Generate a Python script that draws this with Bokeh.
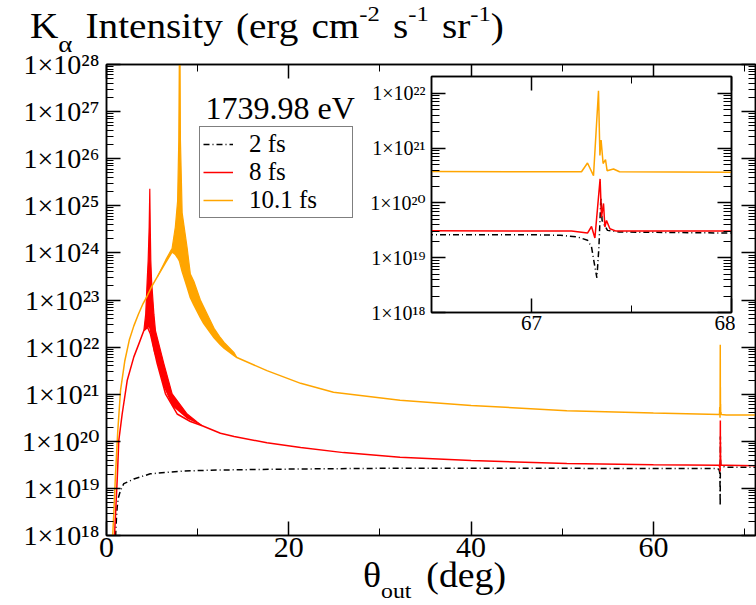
from bokeh.plotting import figure
from bokeh.models import (Range1d, LogAxis, LinearAxis, FixedTicker, CustomJSTickFormatter,
                          Label, Legend, LegendItem, Div)
from bokeh.embed import file_html
from bokeh.resources import INLINE

SERIF = "Liberation Serif"
SERIF_STACK = "'Liberation Serif', 'DejaVu Serif', serif"

# ---------------- data ----------------
# 2 fs (black, dash-dot)
theta_2fs = [0.97, 1.0, 1.1, 1.17, 1.3, 1.54, 1.9, 3.0, 4.8, 8.5,
             12.1, 20.0, 32.0, 45.0, 60.0, 67.0, 67.145, 67.23, 67.28, 67.30,
             67.317, 67.327, 67.337, 67.347, 67.353, 67.36, 67.38, 67.44, 68.0, 71.3]
I_2fs = [5e17, 1.0e18, 2.5e18, 4.0e18, 6.3e18, 9.1e18, 1.26e19, 1.58e19, 2.04e19, 2.34e19,
         2.45e19, 2.57e19, 2.69e19, 2.69e19, 2.63e19, 2.63e19, 2.57e19, 2.40e19, 2.09e19, 1.58e19,
         6.8e18, 4.3e18, 1.55e19, 1.26e20, 4.8e19, 4.2e19, 3.16e19, 2.95e19, 2.82e19, 2.82e19]

# 8 fs (red)
theta_8fs = [0.86, 0.88, 1.17, 1.35, 1.72, 2.27, 3.0, 3.55, 4.1, 4.5,
             4.82, 5.56, 6.47, 7.75, 9.2, 10.5, 12.5, 14.0, 17.6, 21.3,
             26.0, 32.2, 40.0, 50.5, 60.0, 67.2, 67.28, 67.30, 67.317, 67.343,
             67.35, 67.36, 67.367, 67.375, 67.392, 67.42, 68.0, 71.3]
I_8fs = [5e17, 1.0e18, 1.48e19, 1.05e20, 3.8e20, 1.95e21, 6.2e21, 1.17e22, 2.24e22, 2.63e22,
         1.9e22, 4.47e21, 1.02e21, 3.8e20, 2.63e20, 2.14e20, 1.48e20, 1.26e20, 9.3e19, 7.4e19,
         5.75e19, 4.57e19, 3.9e19, 3.39e19, 3.16e19, 3.09e19, 2.82e19, 3.72e19, 2.29e19, 2.75e20,
         5.5e19, 9.8e19, 3.63e19, 4.79e19, 3.39e19, 3.09e19, 3.09e19, 3.02e19]
# 8 fs oscillation envelope
band8_theta = [4.1, 4.3, 4.46, 4.57, 4.68, 4.75, 4.80, 4.86, 4.95, 5.2,
               5.37, 6.29, 7.2, 8.85, 9.94, 10.5]
band8_hi = [2.24e22, 5.0e22, 2.5e23, 6.9e23, 3.55e24, 2.29e25, 3.55e24, 6.9e23, 2.5e23, 5.0e22,
            2.24e22, 4.47e21, 1.02e21, 3.8e20, 2.57e20, 2.14e20]
band8_lo = [2.24e22, 2.4e22, 2.57e22, 2.63e22, 2.51e22, 2.24e22, 2.0e22, 1.78e22, 1.41e22, 7.9e21,
            6.3e21, 1.41e21, 5.6e20, 3.0e20, 2.4e20, 2.14e20]

# 10.1 fs (orange)
theta_10fs = [0.66, 0.68, 0.80, 0.99, 1.24, 1.54, 2.0, 2.5, 3.0, 3.5,
              4.0, 4.5, 5.0, 5.6, 6.5, 7.2, 7.55, 7.8, 8.0, 8.3,
              8.85, 9.2, 9.58, 10.3, 10.67, 11.8, 12.5, 12.9, 14.0, 14.3,
              17.6, 21.3, 24.9, 32.2, 40.0, 50.5, 60.0, 67.25, 67.28, 67.31,
              67.335, 67.342, 67.348, 67.358, 67.37, 67.378, 67.41, 67.44, 68.0, 71.3]
I_10fs = [5e17, 1.0e18, 2.9e18, 2.04e19, 1.7e20, 1.2e21, 5.0e21, 1.41e22, 2.82e22, 5.0e22,
          8.3e22, 1.26e23, 2.0e23, 3.16e23, 6.3e23, 1.05e24, 9.3e23, 7.9e23, 6.8e23, 4.0e23,
          1.86e23, 1.12e23, 7.9e22, 4.2e22, 3.16e22, 1.58e22, 1.12e22, 9.5e21, 6.6e21, 6.0e21,
          3.16e21, 1.7e21, 1.1e21, 7.4e20, 5.75e20, 4.47e20, 3.98e20, 3.72e20, 5.37e20, 3.16e20,
          1.12e22, 7.4e20, 1.41e21, 5.25e20, 6.17e20, 3.89e20, 4.17e20, 3.72e20, 3.63e20, 3.63e20]
# 10.1 fs oscillation envelope
band10_theta = [5.6, 6.5, 7.2, 7.55, 7.8, 7.93, 8.0, 8.06, 8.11, 8.3,
                8.85, 9.2, 9.58, 10.3, 10.67, 11.8, 12.5, 12.9, 14.0, 14.3]
band10_hi = [3.16e23, 7.1e23, 1.26e24, 3.55e24, 1.26e25, 2.5e26, 3.2e28, 3.2e28, 2.5e26, 7.1e24,
             1.26e24, 3.55e23, 2.5e23, 1.0e23, 7.1e22, 2.5e22, 1.58e22, 1.26e22, 7.6e21, 6.0e21]
band10_lo = [3.16e23, 6.3e23, 1.05e24, 9.3e23, 7.9e23, 7.2e23, 6.8e23, 6.3e23, 6.0e23, 4.0e23,
             1.86e23, 1.12e23, 7.9e22, 4.2e22, 3.16e22, 1.58e22, 1.12e22, 9.5e21, 6.6e21, 6.0e21]

series_labels = ["2 fs", "8 fs", "10.1 fs"]
series_colors = ["black", "#ff0000", "#ffa500"]

main_xticks = [0, 20, 40, 60]
main_xminor = [10, 30, 50, 70]
main_decades = list(range(18, 29))
inset_xticks = [67, 68]
inset_xminor = [66.5, 67.5]
inset_decades = list(range(18, 23))

# ---------------- helpers ----------------
SUP_JS = """
const s = {"0":"\u2070","1":"\u00b9","2":"\u00b2","3":"\u00b3","4":"\u2074","5":"\u2075",
           "6":"\u2076","7":"\u2077","8":"\u2078","9":"\u2079","-":"\u207b"};
const e = Math.round(Math.log10(tick));
let out = "";
for (const c of String(e)) out += s[c];
return "1\u00d710" + out;
"""


def log_ticker(decades):
    ticks = [10.0 ** e for e in decades]
    minor = [m * 10.0 ** e for e in decades[:-1] for m in range(2, 10)]
    return FixedTicker(ticks=ticks, minor_ticks=minor)


def style_axis(ax, major_in, minor_in, size, standoff, labels=True):
    ax.major_tick_in = major_in
    ax.major_tick_out = 0
    ax.minor_tick_in = minor_in
    ax.minor_tick_out = 0
    ax.axis_line_color = "black"
    ax.axis_line_width = 1.5
    ax.major_tick_line_color = "black"
    ax.major_tick_line_width = 1.5
    ax.minor_tick_line_color = "black"
    ax.minor_tick_line_width = 1
    ax.major_label_text_font = SERIF_STACK
    ax.major_label_text_font_size = f"{size}px"
    ax.major_label_text_color = "black"
    ax.major_label_standoff = standoff
    if not labels:
        ax.formatter = CustomJSTickFormatter(code="return '';")
        ax.major_label_standoff = 0


def draw_series(fig):
    renderers = []
    r = fig.line(theta_2fs, I_2fs, line_color=series_colors[0], line_width=1.5, line_dash="6 3 1 3")
    renderers.append(r)
    fig.varea(x=band8_theta, y1=band8_lo, y2=band8_hi, fill_color=series_colors[1])
    fig.line(band8_theta, band8_hi, line_color=series_colors[1], line_width=1.2)
    r = fig.line(theta_8fs, I_8fs, line_color=series_colors[1], line_width=1.5)
    renderers.append(r)
    fig.varea(x=band10_theta, y1=band10_lo, y2=band10_hi, fill_color=series_colors[2])
    fig.line(band10_theta, band10_hi, line_color=series_colors[2], line_width=1.2)
    r = fig.line(theta_10fs, I_10fs, line_color=series_colors[2], line_width=1.5)
    renderers.append(r)
    return renderers


W, H = 756, 605

# ---------------- main figure ----------------
p = figure(width=W, height=H, output_backend="svg", toolbar_location=None,
           x_range=Range1d(0, 71.2), y_range=Range1d(1e18, 1e28), y_axis_type="log",
           min_border_left=106, min_border_right=1, min_border_top=64, min_border_bottom=70,
           background_fill_color="white", border_fill_color="white")
p.title = None
p.xgrid.visible = False
p.ygrid.visible = False
p.outline_line_color = "black"
p.outline_line_width = 1.5

p.xaxis.ticker = FixedTicker(ticks=main_xticks, minor_ticks=main_xminor)
style_axis(p.xaxis[0], 14, 7, 30, 2)
p.yaxis.ticker = log_ticker(main_decades)
p.yaxis.formatter = CustomJSTickFormatter(code=SUP_JS)
style_axis(p.yaxis[0], 14, 7, 28, 7)

top_ax = LinearAxis(ticker=FixedTicker(ticks=main_xticks, minor_ticks=main_xminor))
style_axis(top_ax, 14, 7, 10, 0, labels=False)
p.add_layout(top_ax, "above")
right_ax = LogAxis(ticker=log_ticker(main_decades))
style_axis(right_ax, 14, 7, 10, 0, labels=False)
p.add_layout(right_ax, "right")

main_r = draw_series(p)

legend = Legend(items=[LegendItem(label=series_labels[i], renderers=[main_r[i]]) for i in range(3)],
                location=(93, 317), orientation="vertical",
                label_text_font=SERIF, label_text_font_size="25px", label_text_color="black",
                glyph_width=30, glyph_height=24, label_height=24, label_width=100,
                label_standoff=16, spacing=0, padding=3, margin=0,
                border_line_color="black", border_line_width=1.2,
                background_fill_color="white", background_fill_alpha=1.0)
p.add_layout(legend)

# annotation inside the frame (screen units from the frame's bottom-left corner)
p.add_layout(Label(x=99, y=428, x_units="screen", y_units="screen", text="1739.98 eV",
                   text_font=SERIF, text_font_size="32px", text_color="black",
                   text_align="left", text_baseline="alphabetic"))

# ---------------- inset figure (small, overlaid) ----------------
IL, IT = 361, 70     # page position of the inset figure's top-left corner
q = figure(width=374, height=272, output_backend="svg", toolbar_location=None,
           x_range=Range1d(66.5, 68.0), y_range=Range1d(1e18, 2.04e22), y_axis_type="log",
           min_border_left=70, min_border_right=4, min_border_top=6, min_border_bottom=30,
           background_fill_color="white", border_fill_color=None, border_fill_alpha=0)
q.title = None
q.xgrid.visible = False
q.ygrid.visible = False
q.outline_line_color = "black"
q.outline_line_width = 1.5
q.xaxis.ticker = FixedTicker(ticks=inset_xticks, minor_ticks=inset_xminor)
style_axis(q.xaxis[0], 14, 7, 21, 3)
q.yaxis.ticker = log_ticker(inset_decades)
q.yaxis.formatter = CustomJSTickFormatter(code=SUP_JS)
style_axis(q.yaxis[0], 14, 8, 20, 6)
q_top = LinearAxis(ticker=FixedTicker(ticks=inset_xticks, minor_ticks=inset_xminor))
style_axis(q_top, 14, 7, 10, 0, labels=False)
q.add_layout(q_top, "above")
q_right = LogAxis(ticker=log_ticker(inset_decades))
style_axis(q_right, 14, 8, 10, 0, labels=False)
q.add_layout(q_right, "right")
draw_series(q)
q.styles = {"position": "absolute", "left": f"{IL}px", "top": f"{IT}px", "z-index": "1"}

# ---------------- title and x-axis title as HTML text (sub/superscripts) ----------------
OUTER = ("font-family:'Liberation Serif',serif; color:black; line-height:1; white-space:nowrap; "
         "display:inline-block; transform-origin:0 0;")
SUP = "font-size:22px; vertical-align:17px; line-height:0;"
SUB_A = "font-size:24px; vertical-align:-14px; line-height:0;"
SUB_O = "font-size:22px; vertical-align:-11px; line-height:0;"

title_html = (f'<span style="{OUTER} font-size:35px; word-spacing:3px; transform:scaleX(1.12);">'
              f'K<span style="{SUB_A}">\u03b1</span> Intensity (erg cm'
              f'<span style="{SUP}">-2</span> s<span style="{SUP}">-1</span> '
              f'sr<span style="{SUP}">-1</span>)</span>')
title_div = Div(text=title_html, width=560, height=52,
                styles={"position": "absolute", "left": "30px", "top": "9px", "z-index": "2",
                        "margin": "0", "padding": "0"})

xlabel_html = (f'<span style="{OUTER} font-size:35px; word-spacing:5px; transform:scaleX(1.08);">'
               f'\u03b8<span style="{SUB_O}">out</span> (deg)</span>')
xlabel_div = Div(text=xlabel_html, width=220, height=47,
                 styles={"position": "absolute", "left": "363px", "top": "558px", "z-index": "2",
                         "margin": "0", "padding": "0"})

open("out.html", "w").write(file_html([p, q, title_div, xlabel_div], INLINE))
